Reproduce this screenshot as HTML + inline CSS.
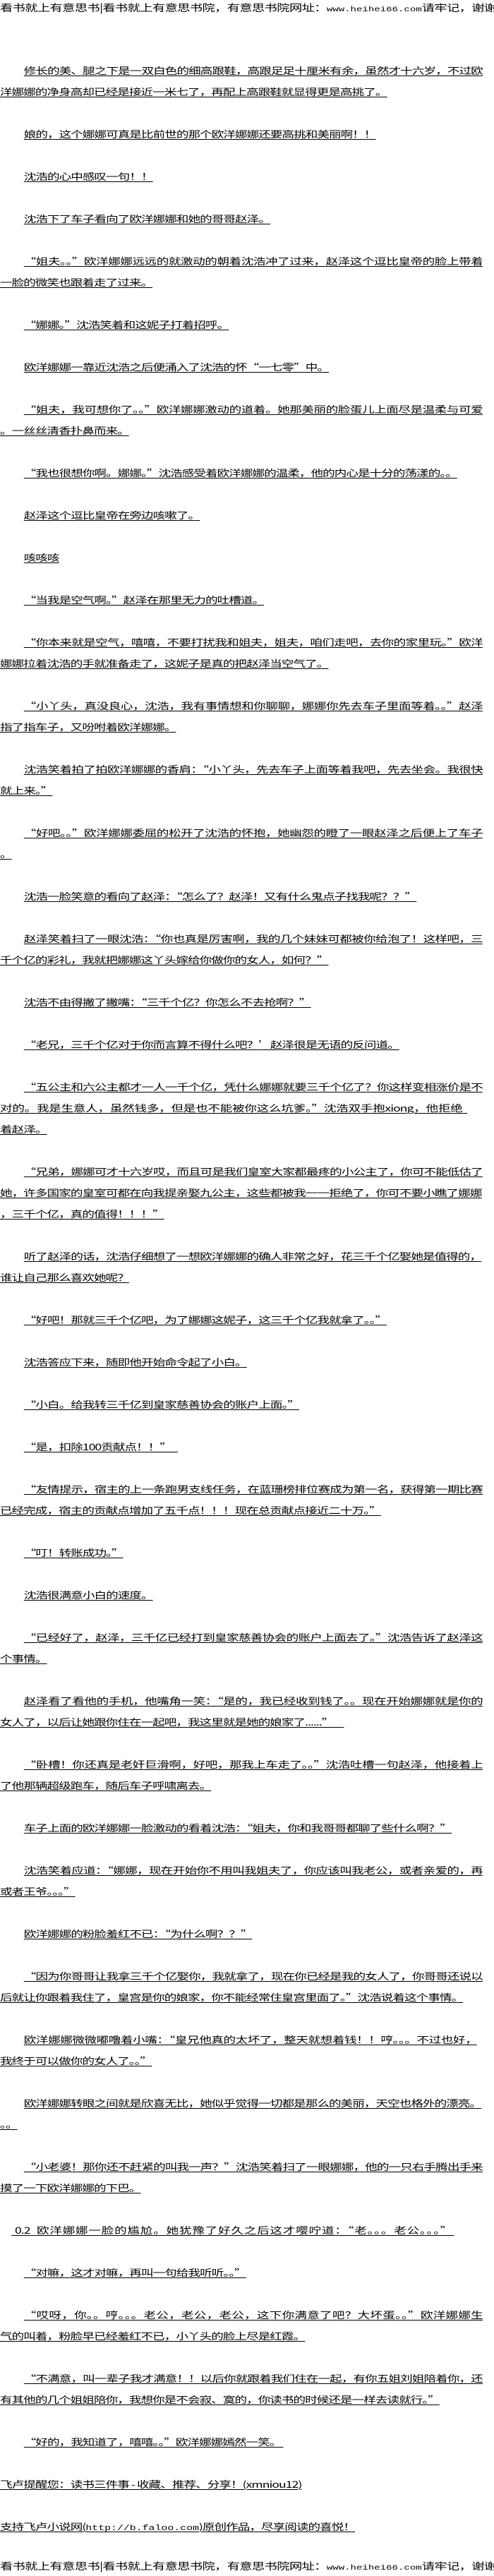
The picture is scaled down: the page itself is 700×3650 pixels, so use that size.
<!DOCTYPE html>
<html><head><meta charset="utf-8">
<style>
html,body{margin:0;padding:0;background:#fff;}
body{width:700px;height:3650px;position:relative;overflow:hidden;font-family:"Noto Sans CJK SC","WenQuanYi Zen Hei",sans-serif;color:#000;}
#w{position:absolute;left:0;top:0;width:518px;height:3650px;transform:scaleX(1.3514);transform-origin:0 0;}
.l{position:absolute;height:30px;line-height:30px;font-size:13px;letter-spacing:-0.7px;white-space:nowrap;}
.l span{text-decoration:underline;text-underline-offset:2px;text-decoration-thickness:1px;}
.i{left:25px;}
.c{left:0;}
.f span{display:inline-block;text-align:justify;text-align-last:justify;}
.i.f span{width:481px;}
.c.f span{width:505px;}
.bn{position:absolute;left:0;height:20px;line-height:20px;font-size:13.5px;white-space:nowrap;letter-spacing:-0.45px;}
.m{font-family:"Liberation Mono",monospace;font-size:10.4px;letter-spacing:0;}
</style></head><body><div id="w">
<div class="bn" style="top:0">看书就上有意思书|看书就上有意思书院，有意思书院网址：<span class="m">www.heihei66.com</span>请牢记，谢谢</div>

<div class="l i f" style="top:85px"><span>修长的美、腿之下是一双白色的细高跟鞋，高跟足足十厘米有余，虽然才十六岁，不过欧</span></div>
<div class="l c" style="top:115px"><span>洋娜娜的净身高却已经是接近一米七了，再配上高跟鞋就显得更是高挑了。</span></div>
<div class="l i" style="top:175px"><span>娘的，这个娜娜可真是比前世的那个欧洋娜娜还要高挑和美丽啊！！</span></div>
<div class="l i" style="top:235px"><span>沈浩的心中感叹一句！！</span></div>
<div class="l i" style="top:295px"><span>沈浩下了车子看向了欧洋娜娜和她的哥哥赵泽。</span></div>
<div class="l i f" style="top:355px"><span>“姐夫。。”欧洋娜娜远远的就激动的朝着沈浩冲了过来，赵泽这个逗比皇帝的脸上带着</span></div>
<div class="l c" style="top:385px"><span>一脸的微笑也跟着走了过来。</span></div>
<div class="l i" style="top:445px"><span>“娜娜。”沈浩笑着和这妮子打着招呼。</span></div>
<div class="l i" style="top:505px"><span>欧洋娜娜一靠近沈浩之后便涌入了沈浩的怀“一七零”中。</span></div>
<div class="l i f" style="top:565px"><span>“姐夫，我可想你了。。”欧洋娜娜激动的道着。她那美丽的脸蛋儿上面尽是温柔与可爱</span></div>
<div class="l c" style="top:595px"><span>。一丝丝清香扑鼻而来。</span></div>
<div class="l i" style="top:655px"><span>“我也很想你啊。娜娜。”沈浩感受着欧洋娜娜的温柔，他的内心是十分的荡漾的。。</span></div>
<div class="l i" style="top:715px"><span>赵泽这个逗比皇帝在旁边咳嗽了。</span></div>
<div class="l i" style="top:775px"><span>咳咳咳</span></div>
<div class="l i" style="top:835px"><span>“当我是空气啊。”赵泽在那里无力的吐槽道。</span></div>
<div class="l i f" style="top:895px"><span>“你本来就是空气，嘻嘻，不要打扰我和姐夫，姐夫，咱们走吧，去你的家里玩。”欧洋</span></div>
<div class="l c" style="top:925px"><span>娜娜拉着沈浩的手就准备走了，这妮子是真的把赵泽当空气了。</span></div>
<div class="l i f" style="top:985px"><span>“小丫头，真没良心，沈浩，我有事情想和你聊聊，娜娜你先去车子里面等着。。”赵泽</span></div>
<div class="l c" style="top:1015px"><span>指了指车子，又吩咐着欧洋娜娜。</span></div>
<div class="l i f" style="top:1075px"><span>沈浩笑着拍了拍欧洋娜娜的香肩：“小丫头，先去车子上面等着我吧，先去坐会。我很快</span></div>
<div class="l c" style="top:1105px"><span>就上来。”</span></div>
<div class="l i f" style="top:1165px"><span>“好吧。。”欧洋娜娜委屈的松开了沈浩的怀抱，她幽怨的瞪了一眼赵泽之后便上了车子</span></div>
<div class="l c" style="top:1195px"><span>。</span></div>
<div class="l i" style="top:1255px"><span>沈浩一脸笑意的看向了赵泽：“怎么了？赵泽！又有什么鬼点子找我呢？？”</span></div>
<div class="l i f" style="top:1315px"><span>赵泽笑着扫了一眼沈浩：“你也真是厉害啊，我的几个妹妹可都被你给泡了！这样吧，三</span></div>
<div class="l c" style="top:1345px"><span>千个亿的彩礼，我就把娜娜这丫头嫁给你做你的女人，如何？”</span></div>
<div class="l i" style="top:1405px"><span>沈浩不由得撇了撇嘴：“三千个亿？你怎么不去抢啊？”</span></div>
<div class="l i" style="top:1465px"><span>“老兄，三千个亿对于你而言算不得什么吧？’赵泽很是无语的反问道。</span></div>
<div class="l i f" style="top:1525px"><span>“五公主和六公主都才一人一千个亿，凭什么娜娜就要三千个亿了？你这样变相涨价是不</span></div>
<div class="l c" style="top:1555px"><span style="display:inline-block;width:490px;text-align:justify;text-align-last:justify;">对的。我是生意人，虽然钱多，但是也不能被你这么坑爹。”沈浩双手抱xiong，他拒绝&nbsp;&nbsp;</span></div>
<div class="l c" style="top:1585px"><span>着赵泽。</span></div>
<div class="l i f" style="top:1645px"><span>“兄弟，娜娜可才十六岁哎，而且可是我们皇室大家都最疼的小公主了，你可不能低估了</span></div>
<div class="l c f" style="top:1675px"><span>她，许多国家的皇室可都在向我提亲娶九公主，这些都被我一一拒绝了，你可不要小瞧了娜娜</span></div>
<div class="l c" style="top:1705px"><span>，三千个亿，真的值得！！！”</span></div>
<div class="l i" style="top:1765px"><span style="display:inline-block;width:472px;text-align:justify;text-align-last:justify;">听了赵泽的话，沈浩仔细想了一想欧洋娜娜的确人非常之好，花三千个亿娶她是值得的，</span></div>
<div class="l c" style="top:1795px"><span>谁让自己那么喜欢她呢？</span></div>
<div class="l i" style="top:1855px"><span>“好吧！那就三千个亿吧，为了娜娜这妮子，这三千个亿我就拿了。。”</span></div>
<div class="l i" style="top:1915px"><span>沈浩答应下来，随即他开始命令起了小白。</span></div>
<div class="l i" style="top:1975px"><span>“小白。给我转三千亿到皇家慈善协会的账户上面。”</span></div>
<div class="l i" style="top:2035px"><span>“是，扣除100贡献点！！”&nbsp;&nbsp;&nbsp;</span></div>
<div class="l i f" style="top:2095px"><span>“友情提示，宿主的上一条跑男支线任务，在蓝珊榜排位赛成为第一名，获得第一期比赛</span></div>
<div class="l c" style="top:2125px"><span>已经完成，宿主的贡献点增加了五千点！！！现在总贡献点接近二十万。”</span></div>
<div class="l i" style="top:2185px"><span>“叮！转账成功。”</span></div>
<div class="l i" style="top:2245px"><span>沈浩很满意小白的速度。</span></div>
<div class="l i f" style="top:2305px"><span>“已经好了，赵泽，三千亿已经打到皇家慈善协会的账户上面去了。”沈浩告诉了赵泽这</span></div>
<div class="l c" style="top:2335px"><span>个事情。</span></div>
<div class="l i f" style="top:2395px"><span>赵泽看了看他的手机，他嘴角一笑：“是的，我已经收到钱了。。现在开始娜娜就是你的</span></div>
<div class="l c" style="top:2425px"><span>女人了，以后让她跟你住在一起吧，我这里就是她的娘家了......”&nbsp;&nbsp;&nbsp;&nbsp;&nbsp;</span></div>
<div class="l i f" style="top:2485px"><span>“卧槽！你还真是老奸巨滑啊，好吧，那我上车走了。。”沈浩吐槽一句赵泽，他接着上</span></div>
<div class="l c" style="top:2515px"><span>了他那辆超级跑车，随后车子呼啸离去。</span></div>
<div class="l i" style="top:2575px"><span>车子上面的欧洋娜娜一脸激动的看着沈浩：“姐夫，你和我哥哥都聊了些什么啊？”</span></div>
<div class="l i f" style="top:2635px"><span>沈浩笑着应道：“娜娜，现在开始你不用叫我姐夫了，你应该叫我老公，或者亲爱的，再</span></div>
<div class="l c" style="top:2665px"><span>或者王爷。。。”</span></div>
<div class="l i" style="top:2725px"><span>欧洋娜娜的粉脸羞红不已：“为什么啊？？”</span></div>
<div class="l i f" style="top:2785px"><span>“因为你哥哥让我拿三千个亿娶你，我就拿了，现在你已经是我的女人了，你哥哥还说以</span></div>
<div class="l c" style="top:2815px"><span style="display:inline-block;width:485px;text-align:justify;text-align-last:justify;">后就让你跟着我住了，皇宫是你的娘家，你不能经常住皇宫里面了。”沈浩说着这个事情。</span></div>
<div class="l i" style="top:2875px"><span style="display:inline-block;width:475px;text-align:justify;text-align-last:justify;">欧洋娜娜微微嘟噜着小嘴：“皇兄他真的太坏了，整天就想着钱！！哼。。。不过也好，</span></div>
<div class="l c" style="top:2905px"><span>我终于可以做你的女人了。。”</span></div>
<div class="l i" style="top:2965px"><span style="display:inline-block;width:477px;text-align:justify;text-align-last:justify;">欧洋娜娜转眼之间就是欣喜无比，她似乎觉得一切都是那么的美丽，天空也格外的漂亮。</span></div>
<div class="l c" style="top:2995px"><span>。。</span></div>
<div class="l i f" style="top:3055px"><span>“小老婆！那你还不赶紧的叫我一声？”沈浩笑着扫了一眼娜娜，他的一只右手腾出手来</span></div>
<div class="l c" style="top:3085px"><span>摸了一下欧洋娜娜的下巴。</span></div>
<div class="l" style="top:3145px;left:12px"><span style="display:inline-block;width:464px;text-align:justify;text-align-last:justify;">&nbsp;0.2&nbsp;&nbsp;欧洋娜娜一脸的尴尬。她犹豫了好久之后这才嘤咛道：“老。。。老公。。。”&nbsp;</span></div>
<div class="l i" style="top:3205px"><span>“对嘛，这才对嘛，再叫一句给我听听。。”</span></div>
<div class="l i f" style="top:3265px"><span>“哎呀，你。。哼。。。老公，老公，老公，这下你满意了吧？大坏蛋。。”欧洋娜娜生</span></div>
<div class="l c" style="top:3295px"><span>气的叫着，粉脸早已经羞红不已，小丫头的脸上尽是红霞。</span></div>
<div class="l i f" style="top:3355px"><span>“不满意，叫一辈子我才满意！！以后你就跟着我们住在一起，有你五姐刘姐陪着你，还</span></div>
<div class="l c" style="top:3385px"><span style="display:inline-block;width:454px;text-align:justify;text-align-last:justify;">有其他的几个姐姐陪你，我想你是不会寂、寞的，你读书的时候还是一样去读就行。”</span></div>
<div class="l i" style="top:3445px"><span>“好的，我知道了，嘻嘻。。”欧洋娜娜嫣然一笑。&nbsp;</span></div>
<div class="l c" style="top:3505px"><span style="display:inline-block;width:393px;">飞卢提醒您：读书三件事 - 收藏、推荐、分享！(xmniou12)</span></div>
<div class="l c" style="top:3565px"><span style="display:inline-block;width:477px;">支持飞卢小说网(<span class="m" style="text-decoration:none;font-size:11px">http://b.faloo.com</span>)原创作品，尽享阅读的喜悦！</span></div>

<div class="bn" style="top:3625px">看书就上有意思书|看书就上有意思书院，有意思书院网址：<span class="m">www.heihei66.com</span>请牢记，谢谢</div>
</div></body></html>
